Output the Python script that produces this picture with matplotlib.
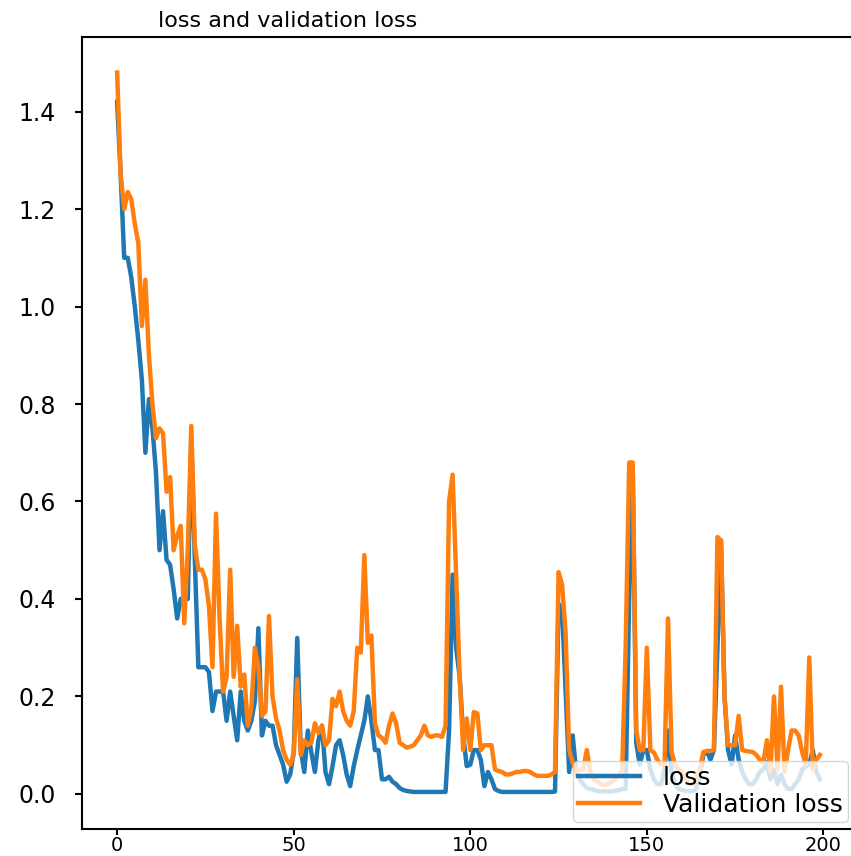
import matplotlib
matplotlib.use("Agg")
import matplotlib.pyplot as plt
import numpy as np

# ---- data ----
loss = [
    1.42, 1.27, 1.10, 1.10, 1.06, 1.00, 0.93, 0.85, 0.70, 0.81,
    0.75, 0.66, 0.50, 0.58, 0.48, 0.47, 0.42, 0.36, 0.40, 0.40,
    0.40, 0.73, 0.48, 0.26, 0.26, 0.26, 0.25, 0.17, 0.21, 0.21,
    0.21, 0.15, 0.21, 0.16, 0.11, 0.21, 0.15, 0.13, 0.15, 0.19,
    0.34, 0.12, 0.15, 0.14, 0.14, 0.10, 0.08, 0.06, 0.025, 0.04,
    0.085, 0.32, 0.09, 0.045, 0.13, 0.085, 0.045, 0.11, 0.14, 0.045,
    0.02, 0.057, 0.10, 0.11, 0.08, 0.04, 0.016, 0.057, 0.09, 0.12,
    0.15, 0.20, 0.15, 0.09, 0.09, 0.03, 0.03, 0.035, 0.025, 0.02,
    0.012, 0.008, 0.006, 0.005, 0.004, 0.004, 0.004, 0.004, 0.004, 0.004,
    0.004, 0.004, 0.004, 0.004, 0.13, 0.45, 0.30, 0.24, 0.12, 0.057,
    0.06, 0.09, 0.09, 0.07, 0.016, 0.045, 0.03, 0.01, 0.006, 0.004,
    0.004, 0.004, 0.004, 0.004, 0.004, 0.004, 0.004, 0.004, 0.004, 0.004,
    0.004, 0.004, 0.004, 0.004, 0.005, 0.39, 0.38, 0.21, 0.045, 0.12,
    0.045, 0.03, 0.02, 0.012, 0.01, 0.008, 0.006, 0.005, 0.005, 0.005,
    0.005, 0.006, 0.008, 0.01, 0.01, 0.40, 0.67, 0.105, 0.06, 0.09,
    0.09, 0.05, 0.03, 0.02, 0.02, 0.05, 0.13, 0.045, 0.02, 0.01,
    0.008, 0.006, 0.006, 0.006, 0.01, 0.04, 0.08, 0.088, 0.07, 0.09,
    0.30, 0.52, 0.20, 0.09, 0.06, 0.12, 0.07, 0.045, 0.03, 0.02,
    0.02, 0.03, 0.045, 0.05, 0.065, 0.03, 0.05, 0.02, 0.04, 0.02,
    0.01, 0.01, 0.02, 0.03, 0.05, 0.057, 0.06, 0.09, 0.045, 0.03,
]

val_loss = [
    1.48, 1.27, 1.20, 1.235, 1.22, 1.17, 1.13, 0.96, 1.055, 0.90,
    0.80, 0.73, 0.75, 0.74, 0.62, 0.65, 0.50, 0.53, 0.55, 0.35,
    0.50, 0.755, 0.51, 0.46, 0.46, 0.44, 0.385, 0.26, 0.575, 0.36,
    0.21, 0.24, 0.46, 0.24, 0.345, 0.22, 0.245, 0.14, 0.175, 0.30,
    0.26, 0.16, 0.17, 0.365, 0.20, 0.155, 0.13, 0.09, 0.07, 0.06,
    0.08, 0.235, 0.08, 0.11, 0.10, 0.105, 0.145, 0.125, 0.14, 0.10,
    0.11, 0.195, 0.18, 0.21, 0.17, 0.15, 0.14, 0.17, 0.30, 0.29,
    0.49, 0.31, 0.325, 0.145, 0.12, 0.115, 0.105, 0.14, 0.165, 0.145,
    0.105, 0.10, 0.095, 0.097, 0.10, 0.11, 0.12, 0.14, 0.12, 0.117,
    0.12, 0.12, 0.117, 0.14, 0.60, 0.655, 0.45, 0.24, 0.09, 0.155,
    0.09, 0.168, 0.165, 0.09, 0.10, 0.10, 0.10, 0.05, 0.047, 0.045,
    0.04, 0.04, 0.042, 0.045, 0.045, 0.047, 0.047, 0.045, 0.04, 0.037,
    0.037, 0.037, 0.037, 0.04, 0.045, 0.455, 0.43, 0.33, 0.09, 0.065,
    0.045, 0.05, 0.05, 0.09, 0.045, 0.03, 0.025, 0.02, 0.018, 0.02,
    0.025, 0.03, 0.04, 0.045, 0.30, 0.68, 0.68, 0.13, 0.09, 0.09,
    0.30, 0.09, 0.085, 0.07, 0.06, 0.06, 0.36, 0.086, 0.06, 0.05,
    0.045, 0.03, 0.02, 0.02, 0.03, 0.05, 0.086, 0.088, 0.088, 0.09,
    0.527, 0.52, 0.20, 0.10, 0.10, 0.10, 0.16, 0.09, 0.088, 0.087,
    0.086, 0.08, 0.07, 0.065, 0.11, 0.045, 0.20, 0.05, 0.22, 0.045,
    0.09, 0.13, 0.13, 0.12, 0.086, 0.06, 0.28, 0.05, 0.07, 0.08,
]

epochs = np.arange(len(loss))
title = "loss and validation loss"
labels = ["loss", "Validation loss"]

W, H = 851, 856
fig = plt.figure(figsize=(W / 100, H / 100), dpi=100)
ax = fig.add_axes([82 / W, (H - 829) / H, (855 - 82) / W, (829 - 37) / H])

ax.plot(epochs, loss, color="#1f77b4", lw=3.2, label=labels[0])
ax.plot(epochs, val_loss, color="#ff7f0e", lw=3.2, label=labels[1])

ax.set_xlim(-9.95, 208.95)
ax.set_ylim(-0.072, 1.553)
ax.set_xticks([0, 50, 100, 150, 200])
ax.set_yticks([0.0, 0.2, 0.4, 0.6, 0.8, 1.0, 1.2, 1.4])
ax.tick_params(axis="x", labelsize=14, length=4, width=1.5, pad=1)
ax.tick_params(axis="y", labelsize=17, length=5, width=1.5, pad=14)
for s in ax.spines.values():
    s.set_linewidth(1.5)

ax.set_title(title, fontsize=16, pad=7, x=0.266)
ax.legend(loc="lower right", fontsize=18, handlelength=2.5,
          labelspacing=0.1, borderpad=0.2, borderaxespad=0.3,
          handletextpad=0.9)

fig.savefig("out.png", dpi=100)
